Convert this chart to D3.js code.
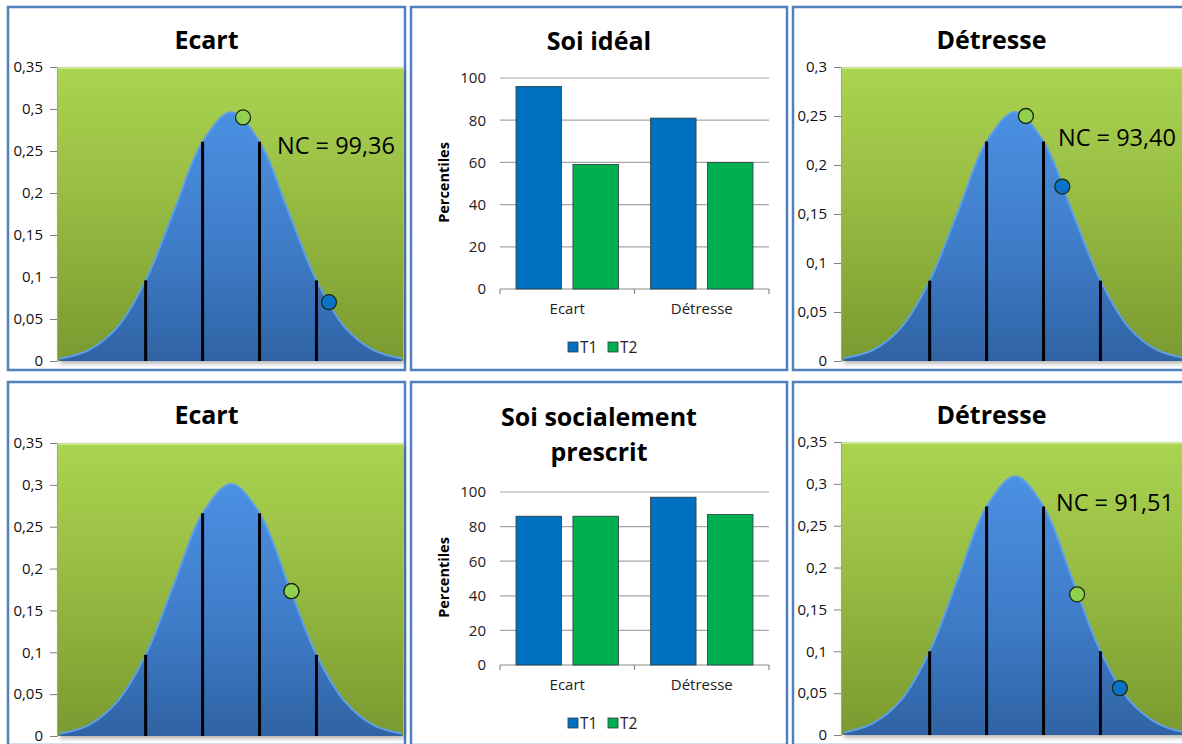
<!DOCTYPE html>
<html><head><meta charset="utf-8">
<script src="https://cdn.jsdelivr.net/npm/d3@7/dist/d3.min.js"></script>
<style>body{margin:0;background:#fff;} text{font-family:"Open Sans","Noto Sans",sans-serif;}</style>
</head><body>
<svg id="c" width="1182" height="744" xmlns="http://www.w3.org/2000/svg"></svg>
<script>
// ---------- DATA ----------
const curveZ = [-3,-2.5,-2,-1.5,-1,-0.5,0,0.5,1,1.5,2,2.5,3];
const idealEcartDensity     = [0.003,0.013,0.040,0.096,0.179,0.261,0.296,0.261,0.179,0.096,0.040,0.013,0.003];
const idealDetresseDensity  = [0.003,0.011,0.034,0.082,0.153,0.224,0.254,0.224,0.153,0.082,0.034,0.011,0.003];
const socialEcartDensity    = [0.003,0.013,0.041,0.097,0.182,0.266,0.301,0.266,0.182,0.097,0.041,0.013,0.003];
const socialDetresseDensity = [0.003,0.014,0.042,0.100,0.187,0.273,0.309,0.273,0.187,0.100,0.042,0.014,0.003];
const bandZ = [-1.5,-0.5,0.5,1.5];

const idealEcartPoints     = [{t:"T1", z:1.72, d:0.070}, {t:"T2", z:0.21, d:0.290}];
const idealDetressePoints  = [{t:"T1", z:0.83, d:0.178}, {t:"T2", z:0.19, d:0.250}];
const socialEcartPoints    = [{t:"T1", z:1.06, d:0.173}, {t:"T2", z:1.06, d:0.173}];
const socialDetressePoints = [{t:"T1", z:1.84, d:0.056}, {t:"T2", z:1.09, d:0.168}];

const ncLabels = ["NC = 99,36", "NC = 93,40", "", "NC = 91,51"];
const curveTicks035 = [0,0.05,0.1,0.15,0.2,0.25,0.3,0.35];
const curveTicks030 = [0,0.05,0.1,0.15,0.2,0.25,0.3];

const categories = ["Ecart","Détresse"];
const seriesNames = ["T1","T2"];
const idealT1 = [96, 81];
const idealT2 = [59, 60];
const socialT1 = [86, 97];
const socialT2 = [86, 87];
const barTicks = [0,20,40,60,80,100];

const colors = {T1:"#0070c0", T2:"#00b050"};
const dotColors = {T1:"#0a72c8", T2:"#92d050"};

// ---------- DRAW ----------
const svg = d3.select("#c");
const defs = svg.append("defs");
const gGreen = defs.append("linearGradient").attr("id","gGreen").attr("x1",0).attr("y1",0).attr("x2",0).attr("y2",1);
gGreen.append("stop").attr("offset","0%").attr("stop-color","#abd452");
gGreen.append("stop").attr("offset","50%").attr("stop-color","#94b940");
gGreen.append("stop").attr("offset","100%").attr("stop-color","#7a9a30");
const gBlue = defs.append("linearGradient").attr("id","gBlue").attr("x1",0).attr("y1",0).attr("x2",0).attr("y2",1);
gBlue.append("stop").attr("offset","0%").attr("stop-color","#4b90e2");
gBlue.append("stop").attr("offset","55%").attr("stop-color","#3f7cc8");
gBlue.append("stop").attr("offset","100%").attr("stop-color","#2f63a4");
const sh = defs.append("filter").attr("id","shadow").attr("x","-5%").attr("y","-5%").attr("width","115%").attr("height","115%");
sh.append("feDropShadow").attr("dx",1.5).attr("dy",2.5).attr("stdDeviation",2).attr("flood-color","#000").attr("flood-opacity",0.3);

const fmtComma = d => String(d).replace(".", ",");

function panelBorder(x, y, w, h) {
  svg.append("rect").attr("x",x).attr("y",y).attr("width",w).attr("height",h)
    .attr("fill","#fff").attr("stroke","#4f81bd").attr("stroke-width",2.5);
}

function curvePanel(cfg) {
  panelBorder(cfg.px, cfg.py, 397, 363);
  svg.append("text").attr("x", cfg.px + 198.5).attr("y", cfg.py + 42)
    .attr("text-anchor","middle").attr("font-size",25).attr("font-weight","bold").attr("fill","#000")
    .text(cfg.title);
  const left = cfg.left, top = cfg.top, bottom = cfg.bottom, width = 345;
  const x = d3.scaleLinear().domain([-3.04, 3.02]).range([left, left + width]);
  const y = d3.scaleLinear().domain([0, cfg.ymax]).range([bottom, top]);
  const clipId = "clip" + cfg.id;
  defs.append("clipPath").attr("id", clipId).append("rect")
    .attr("x", left).attr("y", top).attr("width", width).attr("height", bottom - top);
  const g = svg.append("g");
  g.append("rect").attr("x", left).attr("y", top).attr("width", width).attr("height", bottom - top)
    .attr("fill","url(#gGreen)").attr("filter","url(#shadow)");
  g.append("line").attr("x1",left).attr("x2",left+width).attr("y1",top+1).attr("y2",top+1)
    .attr("stroke","#c9e58f").attr("stroke-width",2);
  const inner = g.append("g").attr("clip-path","url(#"+clipId+")");
  const pts = curveZ.map((z,i) => ({z, d: cfg.density[i]}));
  const area = d3.area().x(d => x(d.z)).y0(bottom).y1(d => y(d.d)).curve(d3.curveCatmullRom);
  const line = d3.line().x(d => x(d.z)).y(d => y(d.d)).curve(d3.curveCatmullRom);
  inner.append("path").attr("d", area(pts)).attr("fill","url(#gBlue)");
  inner.append("path").attr("d", line(pts)).attr("fill","none").attr("stroke","#5e9fea").attr("stroke-width",2);
  bandZ.forEach(z => {
    const idx = curveZ.indexOf(z);
    inner.append("line").attr("x1", x(z)).attr("x2", x(z)).attr("y1", bottom).attr("y2", y(cfg.density[idx]))
      .attr("stroke","#000").attr("stroke-width",3);
  });
  cfg.points.forEach(p => {
    inner.append("circle").attr("cx", x(p.z)).attr("cy", y(p.d)).attr("r",7.5)
      .attr("fill", dotColors[p.t]).attr("stroke","#1a2a10").attr("stroke-width",1.3);
  });
  if (cfg.nc) {
    svg.append("text").attr("x", cfg.ncx).attr("y", cfg.ncy + 8).attr("font-size",23.5).attr("fill","#000").text(cfg.nc);
  }
  const ax = svg.append("g").attr("transform", `translate(${left - 1},0)`)
    .call(d3.axisLeft(y).tickValues(cfg.ticks).tickFormat(fmtComma).tickSize(7).tickPadding(7));
  ax.select(".domain").attr("stroke","#a0a0a0");
  ax.selectAll(".tick line").attr("stroke","#808080");
  ax.selectAll(".tick text").attr("font-size",15).attr("fill","#111").attr("font-family","'Open Sans',sans-serif");
}

function barPanel(cfg) {
  panelBorder(cfg.px, cfg.py, 376, 363);
  cfg.title.forEach((t, i) => {
    svg.append("text").attr("x", cfg.px + 188).attr("y", cfg.titleY + i * 35)
      .attr("text-anchor","middle").attr("font-size",25).attr("font-weight","bold").attr("fill","#000").text(t);
  });
  const left = 500, right = 769, top = cfg.top, bottom = cfg.bottom;
  const x0 = d3.scaleBand().domain(categories).range([left, right]);
  const x1 = d3.scaleBand().domain(seriesNames).range([16, x0.bandwidth() - 16]).paddingInner(0.2);
  const y = d3.scaleLinear().domain([0, 100]).range([bottom, top]);
  const g = svg.append("g");
  barTicks.forEach(t => {
    g.append("line").attr("x1", left).attr("x2", right).attr("y1", y(t)).attr("y2", y(t))
      .attr("stroke", t === 0 ? "#8c8c8c" : "#a6a6a6").attr("stroke-width",1.2);
  });
  const series = {T1: cfg.t1, T2: cfg.t2};
  categories.forEach((c, ci) => {
    seriesNames.forEach(s => {
      const v = series[s][ci];
      g.append("rect").attr("x", x0(c) + x1(s)).attr("y", y(v)).attr("width", x1.bandwidth()).attr("height", bottom - y(v))
        .attr("fill", colors[s]).attr("stroke","#2b3a3a").attr("stroke-width",0.8);
    });
  });
  [left, left + x0.bandwidth(), right].forEach(tx => {
    g.append("line").attr("x1", tx).attr("x2", tx).attr("y1", bottom).attr("y2", bottom + 5).attr("stroke","#8c8c8c").attr("stroke-width",1.2);
  });
  const ay = svg.append("g").attr("transform", `translate(${left},0)`)
    .call(d3.axisLeft(y).tickValues(barTicks).tickSize(0).tickPadding(14));
  ay.select(".domain").remove();
  ay.selectAll(".tick text").attr("font-size",15).attr("fill","#222").attr("font-family","'Open Sans',sans-serif");
  const axb = svg.append("g").attr("transform", `translate(0,${bottom})`)
    .call(d3.axisBottom(x0).tickSize(0).tickPadding(14));
  axb.select(".domain").remove();
  axb.selectAll(".tick text").attr("font-size",15).attr("fill","#222").attr("font-family","'Open Sans',sans-serif");
  svg.append("text").attr("transform", `translate(449,${(top + bottom) / 2 - 1}) rotate(-90)`)
    .attr("text-anchor","middle").attr("font-size",14.5).attr("font-weight","bold").attr("fill","#000").text("Percentiles");
  const ly = bottom + 58;
  const lx = [568, 608];
  seriesNames.forEach((s, i) => {
    svg.append("rect").attr("x", lx[i]).attr("y", ly - 5).attr("width",10).attr("height",10)
      .attr("fill", colors[s]).attr("stroke","#2b3a3a").attr("stroke-width",0.8);
    svg.append("text").attr("x", lx[i] + 12).attr("y", ly + 6).attr("font-size",15.5).attr("fill","#222").text(s);
  });
}

curvePanel({id:"a", px:8, py:7, title:"Ecart", left:58, top:67, bottom:361, ymax:0.35, ticks:curveTicks035,
  density:idealEcartDensity, points:idealEcartPoints, nc:ncLabels[0], ncx:277, ncy:146});
curvePanel({id:"b", px:793, py:7, title:"Détresse", left:842, top:67, bottom:361, ymax:0.30, ticks:curveTicks030,
  density:idealDetresseDensity, points:idealDetressePoints, nc:ncLabels[1], ncx:1058, ncy:138});
curvePanel({id:"c", px:8, py:382, title:"Ecart", left:58, top:443, bottom:736, ymax:0.35, ticks:curveTicks035,
  density:socialEcartDensity, points:socialEcartPoints, nc:ncLabels[2]});
curvePanel({id:"d", px:793, py:382, title:"Détresse", left:842, top:442, bottom:735, ymax:0.35, ticks:curveTicks035,
  density:socialDetresseDensity, points:socialDetressePoints, nc:ncLabels[3], ncx:1056, ncy:503});

barPanel({px:411, py:7, title:["Soi idéal"], titleY:50, top:78, bottom:289, t1:idealT1, t2:idealT2});
barPanel({px:411, py:382, title:["Soi socialement","prescrit"], titleY:426, top:492, bottom:665, t1:socialT1, t2:socialT2});
</script>
</body></html>
